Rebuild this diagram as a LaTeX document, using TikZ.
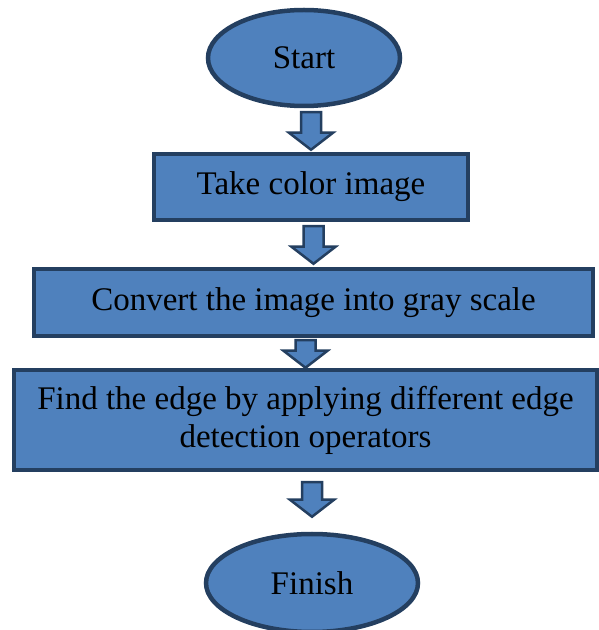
\documentclass[tikz,border=0pt]{standalone}
\usepackage{fontspec}
\setmainfont{Liberation Serif}
\usetikzlibrary{calc,shapes.geometric}
\definecolor{stepblue}{HTML}{4F81BD}
\definecolor{stepedge}{HTML}{243F60}
\tikzstyle{stepbox}=[rectangle, fill=stepblue, draw=stepedge, line width=4.5pt, inner sep=0pt, align=center, font=\fontsize{33}{38}\selectfont]
\tikzstyle{terminal}=[ellipse, fill=stepblue, draw=stepedge, line width=4.5pt, inner sep=0pt, font=\fontsize{33}{38}\selectfont]
\tikzstyle{fatarrow}=[fill=stepblue, draw=stepedge, line width=2.5pt, line join=miter]
% block arrow from #1 down to #2, #3 = gap at top, #4 = gap at tip
\newcommand{\flowarrow}[4]
{
  \path[fatarrow] let \p1 = (#1.south), \p2 = (#2.north) in
    (\x2-10pt,\y1-#3) -- (\x2+10pt,\y1-#3) -- (\x2+10pt,\y2+#4+17pt) -- (\x2+22pt,\y2+#4+17pt)
    -- (\x2,\y2+#4) -- (\x2-22pt,\y2+#4+17pt) -- (\x2-10pt,\y2+#4+17pt) -- cycle;
}

\begin{document}
\begin{tikzpicture}[x=1pt, y=1pt]
	\useasboundingbox (0,0) rectangle (599,630);

	\node[terminal, minimum width=192pt, minimum height=96pt](start) at (304,572){Start};
	\node[stepbox, minimum width=314pt, minimum height=66pt](take) at (311,443){Take color image};
	\node[stepbox, minimum width=559pt, minimum height=67pt](convert) at (313.5,327.5){Convert the image into gray scale};
	\node[stepbox, minimum width=583pt, minimum height=100pt](find) at (305.5,210){Find the edge by applying different edge\\detection operators};
	\node[terminal, minimum width=212pt, minimum height=98pt](finish) at (312,47){Finish};

	\flowarrow{start}{take}{4pt}{2pt}
	\flowarrow{convert}{find}{2pt}{0pt}
	\flowarrow{take}{convert}{4pt}{3pt}
	\flowarrow{find}{finish}{10pt}{15pt}

\end{tikzpicture}
\end{document}
